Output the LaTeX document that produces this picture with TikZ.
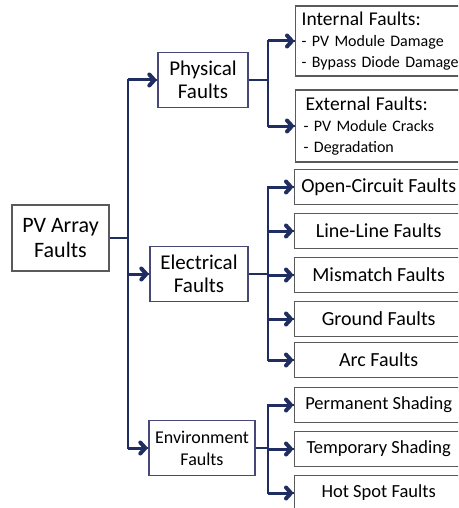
\documentclass[tikz,border=0pt]{standalone}
\usepackage{fontspec}
\setmainfont{Carlito}
\usetikzlibrary{arrows.meta}

\definecolor{linknavy}{RGB}{31,45,96}
\definecolor{boxgray}{RGB}{90,90,90}
\definecolor{catblue}{RGB}{72,72,120}

\begin{document}
\begin{tikzpicture}[
    x=1pt, y=-1pt,
    >={Straight Barb[length=5pt,width=11pt,line width=4pt,round]},
    root/.style={
        draw=boxgray,
        line width=1.4pt,
        minimum width=97,
        minimum height=66,
        align=center,
        font=\fontsize{22}{25}\selectfont
    },
    cat/.style={
        draw=catblue,
        line width=1.4pt,
        minimum height=55,
        align=center,
        inner sep=2pt,
        font=\fontsize{21}{23}\selectfont
    },
    leaf/.style={
        draw=boxgray,
        line width=1.4pt,
        anchor=west,
        minimum width=168,
        minimum height=35,
        font=\fontsize{20}{22}\selectfont
    },
    note/.style={
        leaf,
        align=left,
        text width=180,
        inner xsep=6pt,
        font=\fontsize{16}{21}\selectfont
    },
    trunk/.style={
        draw=linknavy,
        line width=1.8pt
    },
    link/.style={
        draw=linknavy,
        line width=3pt,
        shorten >=1pt,
        ->
    },
    stem/.style={
        draw=linknavy,
        line width=2.6pt
    }
]
\useasboundingbox (0,0) rectangle (458,508);
\clip (0,0) rectangle (458,508);

% nodes
\node[root] (pv) at (60.5,238) {PV Array\\Faults};

\node[cat, minimum width=90] (phys) at (203,80) {Physical\\Faults};
\node[cat, minimum width=98] (elec) at (199,274) {Electrical\\Faults};
\node[cat, minimum width=106, font=\fontsize{18}{22}\selectfont] (env) at (202,448) {Environment\\Faults};

\node[note, minimum height=70] (intl) at (295,41)
    {{\fontsize{19.5}{21}\selectfont Internal Faults:}\\- PV Module Damage\\- Bypass Diode Damage};
\node[note, minimum height=72] (extl) at (295,126)
    {\hspace{4pt}{\fontsize{19.5}{21}\selectfont External Faults:}\\\hspace{2pt}- PV Module Cracks\\\hspace{2pt}- Degradation};

\node[leaf] (oc) at (294,187) {Open-Circuit Faults};
\node[leaf] (ll) at (294,231) {Line-Line Faults};
\node[leaf] (mm) at (294,275) {Mismatch Faults};
\node[leaf] (gr) at (294,319) {Ground Faults};
\node[leaf] (arc) at (294,360) {Arc Faults};

\node[leaf, font=\fontsize{18.5}{22}\selectfont] (perm) at (294,405) {Permanent Shading};
\node[leaf, font=\fontsize{18.5}{22}\selectfont] (temp) at (294,449) {Temporary Shading};
\node[leaf, font=\fontsize{18.5}{22}\selectfont] (hot) at (294,493) {Hot Spot Faults};

% trunks
\coordinate (t0) at (128,0);
\coordinate (t1) at (268,0);

% connectors
\foreach \n in {phys,elec,env} {
    \draw[trunk] (pv.east -| t0) |- (\n.west);
    \draw[link] (\n.west -| t0) -- (\n.west);
}
\draw[stem] (pv.east) -- (pv.east -| t0);

\foreach \n in {intl,extl} {
    \draw[trunk] (phys.east -| t1) |- (\n.west);
    \draw[link] (\n.west -| t1) -- (\n.west);
}
\draw[stem] (phys.east) -- (phys.east -| t1);

\foreach \n in {oc,ll,mm,gr,arc} {
    \draw[trunk] (elec.east -| t1) |- (\n.west);
    \draw[link] (\n.west -| t1) -- (\n.west);
}
\draw[stem] (elec.east) -- (elec.east -| t1);

\foreach \n in {perm,temp,hot} {
    \draw[trunk] (env.east -| t1) |- (\n.west);
    \draw[link] (\n.west -| t1) -- (\n.west);
}
\draw[stem] (env.east) -- (env.east -| t1);
\end{tikzpicture}
\end{document}
